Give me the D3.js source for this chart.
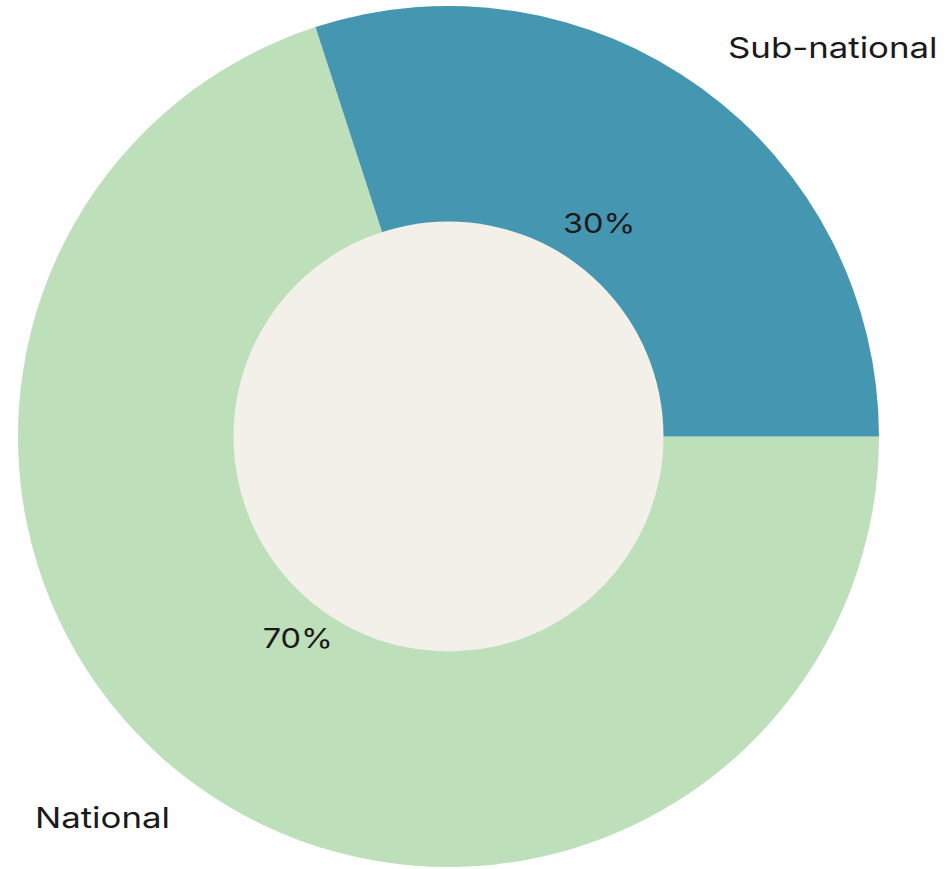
<!DOCTYPE html>
<html>
<head>
<meta charset="utf-8">
<script src="https://cdn.jsdelivr.net/npm/d3@7"></script>
<style>
  html, body { margin: 0; padding: 0; background: #ffffff; }
  text { font-family: Inter, "Noto Sans", sans-serif; fill: #1a1a1a; }
</style>
</head>
<body>
<div id="chart"></div>
<script>
// share of the total, per level
const categories = ['National', 'Sub-national'];
const shares = [70, 30];
const colors = ['#bddfba', '#4596b0'];

const width = 945;
const height = 869;
const cx = 448.5;
const cy = 436.5;
const outerR = 430.5;
const innerR = 215;

const svg = d3.select('#chart')
  .append('svg')
  .attr('width', width)
  .attr('height', height);

const g = svg.append('g').attr('transform', `translate(${cx},${cy})`);

const rows = categories.map((c, i) => ({ name: c, value: shares[i], color: colors[i] }));

// national starts at 3 o'clock and runs clockwise
const pie = d3.pie()
  .value(d => d.value)
  .sort(null)
  .startAngle(Math.PI / 2)
  .endAngle(Math.PI / 2 + 2 * Math.PI);

const arcs = pie(rows);

const arc = d3.arc().innerRadius(0).outerRadius(outerR);

g.selectAll('.slice')
  .data(arcs)
  .enter()
  .append('path')
  .attr('class', 'slice')
  .attr('fill', d => d.data.color)
  .attr('d', arc);

g.append('circle')
  .attr('r', innerR)
  .attr('fill', '#f3f0e9');

const pctArc = d3.arc().innerRadius(256.5).outerRadius(256.5);

// the original face is wider than Inter, so stretch it a bit
g.selectAll('.pct')
  .data(arcs)
  .enter()
  .append('text')
  .attr('class', 'pct')
  .attr('transform', d => `translate(${pctArc.centroid(d)}) scale(1.18,1)`)
  .attr('text-anchor', 'middle')
  .attr('dy', '0.13em')
  .style('font-size', '27.5px')
  .text(d => d.data.value + '%');

// outer name labels, placed in the corners beside the ring
const namePos = {
  'National': [-413.5, 391.5],
  'Sub-national': [279.5, -378.5]
};

g.selectAll('.name')
  .data(arcs)
  .enter()
  .append('text')
  .attr('class', 'name')
  .attr('transform', d => `translate(${namePos[d.data.name]}) scale(1.2,1)`)
  .attr('text-anchor', 'start')
  .style('font-size', '29px')
  .text(d => d.data.name);
</script>
</body>
</html>
